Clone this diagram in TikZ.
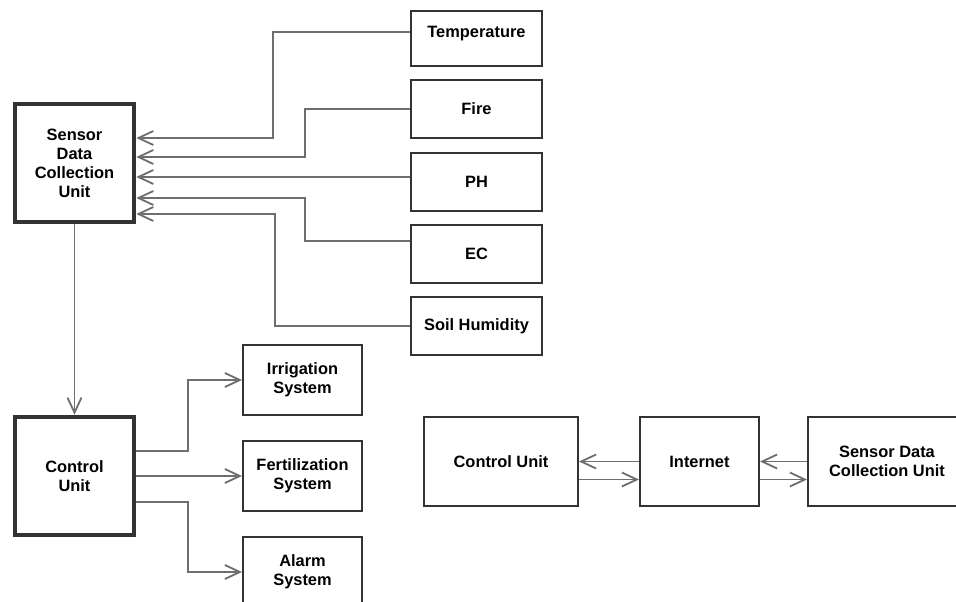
\documentclass[tikz,border=0pt]{standalone}
\usepackage{fontspec}
\setmainfont{Liberation Sans}
\usetikzlibrary{arrows.meta}

\definecolor{boxgray}{HTML}{333333}
\definecolor{linegray}{HTML}{6E6E6E}

\tikzset{
  box/.style={draw=boxgray, line width=2pt, fill=white, align=center, inner sep=0pt,
              font=\bfseries\fontsize{16.4}{19}\selectfont},
  unit/.style={box, line width=4.5pt, minimum width=119pt, minimum height=118pt},
  sensor/.style={box, minimum width=131pt, minimum height=58pt},
  actuator/.style={box, minimum width=119pt, minimum height=70pt},
  link/.style={draw=linegray, line width=1.8pt, -{Straight Barb[length=15pt,width=14pt]}},
}

\begin{document}
\begin{tikzpicture}[x=1pt, y=-1pt]
   \useasboundingbox (0,0) rectangle (956,602);
   % main units
   \node[unit] (sdcu) at (74.5,163) {Sensor\\Data\\Collection\\Unit};
   \node[unit] (cu) at (74.5,476) {Control\\Unit};
   % sensors
   \node[sensor, minimum height=55pt, text depth=12.5pt] (temp) at (476.5,38.5) {Temperature};
   \foreach \name/\y/\txt in {fire/109/Fire, ph/182/PH, ec/254/EC, soil/326/Soil Humidity}
    \node[sensor] (\name) at (476.5,\y) {\txt};
   \draw[link] ([yshift=6.5pt]temp.west) -- (273,32) |- ([yshift=25pt]sdcu.east);
   \draw[link] (fire.west) -- (305,109) |- ([yshift=6pt]sdcu.east);
   \draw[link] ([yshift=5pt]ph.west) -- ([yshift=-14pt]sdcu.east);
   \draw[link] ([yshift=13pt]ec.west) -- (305,241) |- ([yshift=-35pt]sdcu.east);
   \draw[link] (soil.west) -- (275,326) |- ([yshift=-51pt]sdcu.east);
   \draw[link] (sdcu) -- (cu);
   % actuators
   \node[actuator] (irr) at (302.5,380) {Irrigation\\System};
   \node[actuator] (fert) at (302.5,476) {Fertilization\\System};
   \node[actuator] (alarm) at (302.5,572) {Alarm\\System};
   \draw[link] ([yshift=25pt]cu.east) -- (188,451) |- (irr.west);
   \draw[link] (cu.east) -- (fert.west);
   \draw[link] ([yshift=-26pt]cu.east) -- (188,502) |- (alarm.west);
   % remote link
   \node[box, minimum width=154pt, minimum height=89pt] (ctrl) at (501,461.5) {Control Unit};
   \node[box, minimum width=119pt, minimum height=89pt] (net) at (699.5,461.5) {Internet};
   \node[box, minimum width=158pt, minimum height=89pt] (cloud) at (887,461.5) {Sensor Data\\Collection Unit};
   \draw[link] (net.west) -- (ctrl.east);
   \draw[link] ([yshift=-18pt]ctrl.east) -- ([yshift=-18pt]net.west);
   \draw[link] (cloud.west) -- (net.east);
   \draw[link] ([yshift=-18pt]net.east) -- ([yshift=-18pt]cloud.west);
\end{tikzpicture}
\end{document}
